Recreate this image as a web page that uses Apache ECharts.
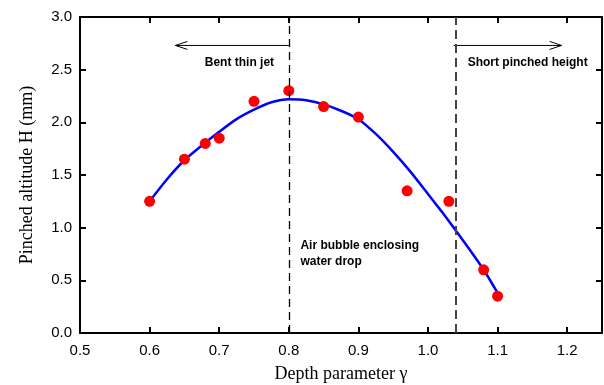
<!DOCTYPE html>
<html><head><meta charset="utf-8">
<script src="https://cdn.jsdelivr.net/npm/echarts@6/dist/echarts.min.js"></script>
<style>html,body{margin:0;padding:0;background:#fff}#c{width:604px;height:385px}</style>
</head><body><div id="c"></div>
<script>
// Measured points
var depthX = [0.6, 0.65, 0.68, 0.7, 0.75, 0.8, 0.85, 0.9, 0.97, 1.03, 1.08, 1.1];
var heightY = [1.25, 1.65, 1.8, 1.85, 2.2, 2.3, 2.15, 2.05, 1.35, 1.25, 0.6, 0.35];
// Fitted curve
var fitX = [0.6, 0.625, 0.65, 0.675, 0.7, 0.725, 0.75, 0.775, 0.8, 0.825, 0.85, 0.875, 0.9, 0.925, 0.95, 0.975, 1.0, 1.02, 1.037, 1.06, 1.08, 1.1];
var fitY = [1.25, 1.46, 1.64, 1.78, 1.91, 2.03, 2.12, 2.19, 2.22, 2.21, 2.17, 2.11, 2.03, 1.89, 1.72, 1.53, 1.32, 1.15, 1.0, 0.79, 0.6, 0.38];
// Regime boundaries
var boundaries = [0.8, 1.037];
// Arrows: [startX, y, endX]
var arrows = [[0.8, 2.73, 0.637], [1.037, 2.73, 1.192]];
// Annotations: [x, y, text, align]
var notes = [
  [0.729, 2.57, 'Bent thin jet', 'center'],
  [1.057, 2.57, 'Short pinched height', 'left'],
  [0.8167, 0.83, 'Air bubble enclosing', 'left'],
  [0.8167, 0.68, 'water drop', 'left']
];
var xTicks = {min: 0.5, max: 1.25, interval: 0.1};
var yTicks = {min: 0, max: 3, interval: 0.5};

var chart = echarts.init(document.getElementById('c'));
var axisLine = {show: true, onZero: false, lineStyle: {color: '#000', width: 2}};
var tick = {show: true, inside: true, length: 6, lineStyle: {color: '#000', width: 2}};
var lbl = {color: '#000', fontFamily: 'Liberation Sans', fontSize: 15};
chart.setOption({
  animation: false,
  grid: {left: 80, right: 2, top: 17, bottom: 52, outerBoundsMode: 'none', containLabel: false},
  xAxis: [{
    type: 'value', min: xTicks.min, max: xTicks.max, interval: xTicks.interval,
    axisLine: axisLine, axisTick: tick, splitLine: {show: false},
    axisLabel: Object.assign({showMaxLabel: false, margin: 10, formatter: function(v){return v.toFixed(1);}}, lbl),
    name: 'Depth parameter γ', nameLocation: 'middle', nameGap: 32,
    nameTextStyle: {fontFamily: 'Liberation Serif', fontSize: 18, color: '#000'}
  }, {
    type: 'value', position: 'top', min: xTicks.min, max: xTicks.max, interval: xTicks.interval,
    axisLine: axisLine, axisTick: tick, axisLabel: {show: false}, splitLine: {show: false}
  }],
  yAxis: [{
    type: 'value', min: yTicks.min, max: yTicks.max, interval: yTicks.interval,
    axisLine: axisLine, axisTick: tick, splitLine: {show: false},
    axisLabel: Object.assign({margin: 8, formatter: function(v){return v.toFixed(1);}}, lbl),
    name: 'Pinched altitude H (mm)', nameLocation: 'middle', nameGap: 44,
    nameTextStyle: {fontFamily: 'Liberation Serif', fontSize: 18, color: '#000'}
  }, {
    type: 'value', position: 'right', min: yTicks.min, max: yTicks.max, interval: yTicks.interval,
    axisLine: axisLine, axisTick: tick, axisLabel: {show: false}, splitLine: {show: false}
  }],
  series: [{
    type: 'line', data: fitX.map(function(x, i){return [x, fitY[i]];}),
    smooth: 0.25, showSymbol: false, lineStyle: {color: '#0000ff', width: 2.5}, z: 2,
    markLine: {
      silent: true, symbol: ['none', 'none'], label: {show: false},
      data: [
        {xAxis: boundaries[0], lineStyle: {color: '#000', width: 1.3, type: [8, 5]}},
        {xAxis: boundaries[1], lineStyle: {color: '#444', width: 2, type: [9, 5]}}
      ]
    }
  }, {
    type: 'scatter', data: depthX.map(function(x, i){return [x, heightY[i]];}),
    symbolSize: 11, itemStyle: {color: '#ff0000', opacity: 1}, z: 3
  }, {
    type: 'custom', data: arrows, z: 4,
    renderItem: function(params, api) {
      var p0 = api.coord([api.value(0), api.value(1)]);
      var p1 = api.coord([api.value(2), api.value(1)]);
      var d = p1[0] > p0[0] ? 1 : -1;
      return {type: 'group', children: [
        {type: 'line', shape: {x1: p0[0], y1: p0[1], x2: p1[0], y2: p1[1]}, style: {stroke: '#000', lineWidth: 1}},
        {type: 'polyline', shape: {points: [[p1[0] - d * 12, p1[1] - 4], [p1[0], p1[1]], [p1[0] - d * 12, p1[1] + 4]]}, style: {stroke: '#000', lineWidth: 1, fill: null}}
      ]};
    }
  }, {
    type: 'custom', data: notes, z: 4,
    renderItem: function(params, api) {
      var n = notes[params.dataIndex];
      var p = api.coord([n[0], n[1]]);
      return {type: 'text', x: p[0], y: p[1], style: {text: n[2], fill: '#000', font: 'bold 12px "Liberation Sans"', textAlign: n[3], textVerticalAlign: 'middle'}};
    }
  }]
});
</script></body></html>
